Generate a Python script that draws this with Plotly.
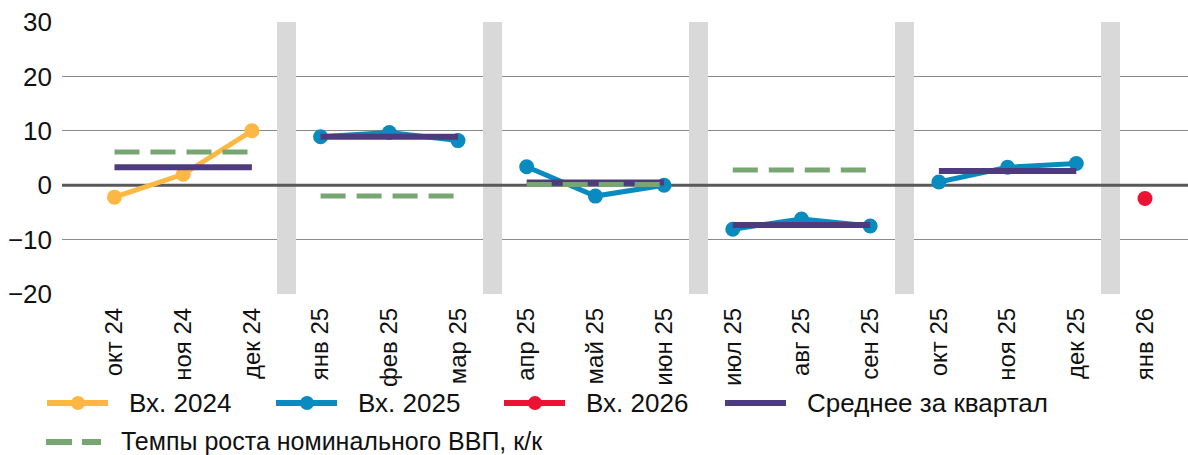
import plotly.graph_objects as go

# ---------------- data ----------------
months = ["окт 24", "ноя 24", "дек 24",
          "янв 25", "фев 25", "мар 25",
          "апр 25", "май 25", "июн 25",
          "июл 25", "авг 25", "сен 25",
          "окт 25", "ноя 25", "дек 25",
          "янв 26"]

vx2024_months = ["окт 24", "ноя 24", "дек 24"]
vx2024 = [-2.2, 2.0, 10.0]

vx2025_months = ["янв 25", "фев 25", "мар 25", "апр 25", "май 25", "июн 25",
                 "июл 25", "авг 25", "сен 25", "окт 25", "ноя 25", "дек 25"]
vx2025 = [8.9, 9.7, 8.2, 3.4, -2.0, 0.0, -8.1, -6.2, -7.5, 0.6, 3.3, 4.0]

vx2026_months = ["янв 26"]
vx2026 = [-2.45]

# quarters: (first month, last month)
quarters = [("окт 24", "дек 24"), ("янв 25", "мар 25"), ("апр 25", "июн 25"),
            ("июл 25", "сен 25"), ("окт 25", "дек 25")]
quarter_avg = [3.3, 8.9, 0.5, -7.3, 2.6]

gdp_quarters = [("окт 24", "дек 24"), ("янв 25", "мар 25"), ("апр 25", "июн 25"),
                ("июл 25", "сен 25")]
gdp_growth = [6.1, -2.0, 0.15, 2.8]

y_ticks = [-20, -10, 0, 10, 20, 30]

# ---------------- styles ----------------
C2024 = "#FDB843"
C2025 = "#0A8BC0"
C2026 = "#EA1333"
CAVG = "#4E3B7E"
CGDP = "#77A672"
CSEP = "#D9D9D9"
FONT = "Liberation Sans, Arial, sans-serif"

idx = {m: i for i, m in enumerate(months)}
X_MIN, X_MAX = -0.764, len(months) - 1 + 0.626
Y_MIN, Y_MAX = y_ticks[0], y_ticks[-1]

fig = go.Figure()

# quarter separators (between quarters)
sep_x = [idx[q[1]] + 0.5 for q in quarters]
fig.add_trace(go.Bar(x=sep_x, y=[Y_MAX - Y_MIN] * len(sep_x), base=Y_MIN,
                     width=0.28, marker=dict(color=CSEP, line=dict(width=0)),
                     showlegend=False, hoverinfo="skip"))

# zero line
fig.add_trace(go.Scatter(x=[X_MIN, X_MAX], y=[0, 0], mode="lines",
                         line=dict(color="#595959", width=3),
                         showlegend=False, hoverinfo="skip"))


def quarter_of(m):
    for qi, (a, b) in enumerate(quarters):
        if idx[a] <= idx[m] <= idx[b]:
            return qi
    return len(quarters)


# monthly series, line broken between quarters
for mlist, vals, col in [(vx2024_months, vx2024, C2024),
                         (vx2025_months, vx2025, C2025),
                         (vx2026_months, vx2026, C2026)]:
    xs, ys = [], []
    prev_q = None
    for m, v in zip(mlist, vals):
        q = quarter_of(m)
        if prev_q is not None and q != prev_q:
            xs.append(None)
            ys.append(None)
        xs.append(idx[m])
        ys.append(v)
        prev_q = q
    fig.add_trace(go.Scatter(x=xs, y=ys, mode="lines+markers",
                             line=dict(color=col, width=5),
                             marker=dict(color=col, size=15),
                             connectgaps=False,
                             showlegend=False, cliponaxis=False))

# quarter averages
for (a, b), v in zip(quarters, quarter_avg):
    fig.add_trace(go.Scatter(x=[idx[a], idx[b]], y=[v, v], mode="lines",
                             line=dict(color=CAVG, width=6),
                             showlegend=False))

# GDP growth dashed
for (a, b), v in zip(gdp_quarters, gdp_growth):
    fig.add_trace(go.Scatter(x=[idx[a], idx[b]], y=[v, v], mode="lines",
                             line=dict(color=CGDP, width=5, dash="25px,11px"),
                             showlegend=False))

# ---------------- manual legend ----------------
W, H = 1188, 455
L, R, T, B = 62, 0, 22, 161
PW, PH = W - L - R, H - T - B


def px(xp):
    return (xp - L) / PW


def py(yp):
    return (H - B - yp) / PH


shapes = []
annotations = []
TXT = 26

legend_row1 = [("Вх. 2024", C2024, 47, True),
               ("Вх. 2025", C2025, 276, True),
               ("Вх. 2026", C2026, 504, True),
               ("Среднее за квартал", CAVG, 725, False)]
ROW1_Y = 403
for label, col, x0, marker in legend_row1:
    shapes.append(dict(type="line", xref="paper", yref="paper",
                       x0=px(x0), x1=px(x0 + 61), y0=py(ROW1_Y), y1=py(ROW1_Y),
                       line=dict(color=col, width=6)))
    if marker:
        shapes.append(dict(type="circle", xref="paper", yref="paper",
                           xsizemode="pixel", ysizemode="pixel",
                           xanchor=px(x0 + 31), yanchor=py(ROW1_Y),
                           x0=-7, x1=7, y0=-7, y1=7,
                           fillcolor=col, line=dict(width=0)))
    annotations.append(dict(text=label, xref="paper", yref="paper",
                            x=px(x0 + 80), y=py(ROW1_Y), xanchor="left", yanchor="middle",
                            showarrow=False, font=dict(size=TXT, color="#111111", family=FONT)))

ROW2_Y = 442
shapes.append(dict(type="line", xref="paper", yref="paper",
                   x0=px(46), x1=px(72), y0=py(ROW2_Y), y1=py(ROW2_Y),
                   line=dict(color=CGDP, width=6)))
shapes.append(dict(type="line", xref="paper", yref="paper",
                   x0=px(82), x1=px(101), y0=py(ROW2_Y), y1=py(ROW2_Y),
                   line=dict(color=CGDP, width=6)))
annotations.append(dict(text="Темпы роста номинального ВВП, к/к", xref="paper", yref="paper",
                        x=px(120), y=py(ROW2_Y - 1), xanchor="left", yanchor="middle",
                        borderpad=0,
                        showarrow=False, font=dict(size=25, color="#111111", family=FONT)))

fig.update_layout(
    width=W, height=H,
    margin=dict(l=L, r=R, t=T, b=B, pad=0),
    paper_bgcolor="white", plot_bgcolor="white",
    barmode="overlay", bargap=0,
    showlegend=False,
    font=dict(family=FONT, color="#111111"),
    shapes=shapes, annotations=annotations,
    xaxis=dict(range=[X_MIN, X_MAX], tickmode="array",
               tickvals=list(range(len(months))), ticktext=months,
               tickangle=-90, showgrid=False, zeroline=False, showline=False,
               ticks="", tickfont=dict(size=24, color="#111111"), ticklabelstandoff=8),
    yaxis=dict(range=[Y_MIN, Y_MAX], tickmode="array", tickvals=y_ticks,
               showgrid=True, gridcolor="#8A8A8A", gridwidth=1.3,
               zeroline=False, showline=False, ticks="",
               tickfont=dict(size=26, color="#111111"), ticklabelstandoff=9),
)

fig.write_html("out.html", include_plotlyjs=True, full_html=True,
               config={"displayModeBar": False},
               post_script="document.body.style.margin='0';")
